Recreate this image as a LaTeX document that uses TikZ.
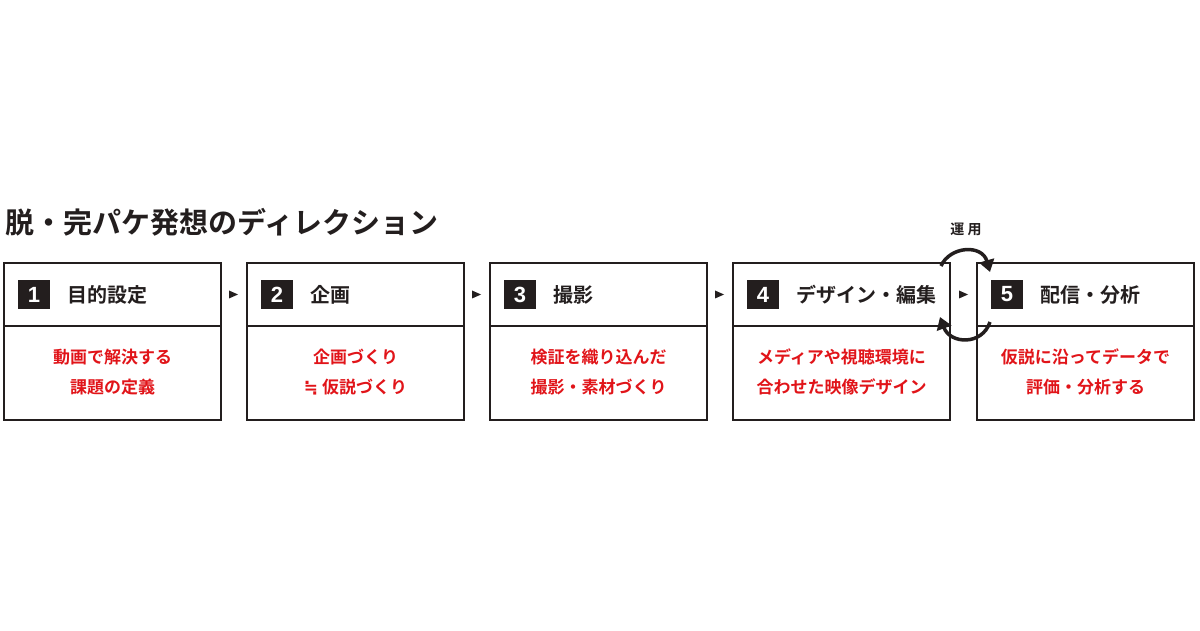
\documentclass[tikz,border=0pt]{standalone}
\usepackage{fontspec}
\setmainfont{Noto Sans CJK JP}[BoldFont={* Bold}]
\newfontfamily\jpb{Noto Sans CJK JP Bold}
\newfontfamily\djv{DejaVu Sans}[BoldFont={* Bold}]
\newfontfamily\lsb{Liberation Sans Bold}
\usetikzlibrary{arrows.meta}
\definecolor{myred}{RGB}{225,20,25}
\definecolor{ink}{RGB}{35,30,30}
\tikzset{
 frame/.style={draw=ink,line width=1.6pt},
 badge/.style={fill=ink,text=white,minimum width=32pt,minimum height=29pt,inner sep=0pt,font=\lsb\fontsize{22}{22}\selectfont},
 ttl/.style={anchor=west,text=ink,font=\jpb\fontsize{20}{20}\selectfont,inner sep=0pt},
 body/.style={text=myred,align=center,font=\jpb\fontsize{17}{30}\selectfont,inner sep=0pt},
 cyc/.style={draw=ink,line width=3.5pt,-{Triangle[length=12pt,width=15pt]}}
}
\begin{document}
\begin{tikzpicture}[x=1pt,y=1pt]
\useasboundingbox (0,0) rectangle (1200,630);
\fill[white] (0,0) rectangle (1200,630);
\node[anchor=west,text=ink,font=\jpb\fontsize{29}{29}\selectfont,inner sep=0pt] (title) at (5,408) {脱・完パケ発想のディレクション};
\foreach \i/\x/\t/\b in {1/4/目的設定/{動画で解決する\\課題の定義},2/247/企画/{企画づくり\\{\djv\bfseries ≒} 仮説づくり},3/490/撮影/{検証を織り込んだ\\撮影・素材づくり},4/733/デザイン・編集/{メディアや視聴環境に\\合わせた映像デザイン},5/977/配信・分析/{仮説に沿ってデータで\\評価・分析する}}{
 \draw[frame] (\x,210) rectangle ++(217,157);
 \draw[frame] (\x,304) -- ++(217,0);
 \node[badge] (b\i) at (\x+30,335.5) {\i};
 \node[ttl] (t\i) at (\x+63,335.5) {\t};
 \node[body] (d\i) at (\x+108.5,258) {\b};
}
\foreach \x in {233,476,719,963}{
 \fill[ink] (\x-4,339.5) -- (\x+5,335.5) -- (\x-4,331.5) -- cycle;
}
\node[text=ink,font=\jpb\fontsize{14}{14}\selectfont] (op) at (966,401) {運 用};
\draw[cyc] (941,364) .. controls (950,384) and (982,386) .. (990,358);
\draw[cyc] (990,308) .. controls (982,284) and (950,286) .. (940,313);
\end{tikzpicture}
\end{document}
